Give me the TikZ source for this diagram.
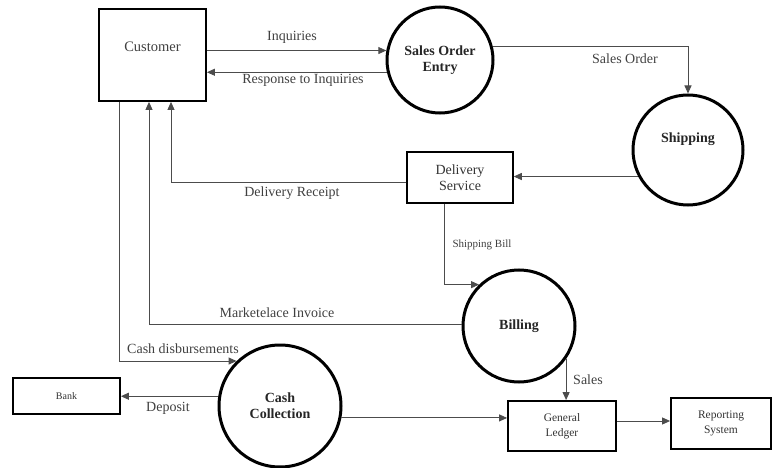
\documentclass[tikz,border=0pt]{standalone}
\usepackage{fontspec}
\setmainfont{Liberation Serif}
\usetikzlibrary{arrows.meta}
\begin{document}
\begin{tikzpicture}[x=1pt,y=-1pt,
  ent/.style={draw=black,line width=1.8pt,rectangle,inner sep=0pt,align=center,text=black!80},
  proc/.style={draw=black,line width=3pt,circle,inner sep=0pt,align=center,font=\fontsize{14}{16}\selectfont\bfseries,text=black!85},
  arr/.style={draw=black!70,line width=0.9pt,-{Triangle[length=8pt,width=7pt]}},
  lbl/.style={font=\fontsize{14}{16}\selectfont,text=black!75,inner sep=0pt},
  small/.style={font=\fontsize{11}{13}\selectfont,text=black!75,inner sep=0pt}]
\useasboundingbox (0,0) rectangle (772,468);
% entities
\node[ent,minimum width=107pt,minimum height=92pt] (cust) at (152.5,55) {};
\node[lbl] (custlbl) at (152.5,47) {\fontsize{14.5}{16}\selectfont Customer};
\node[ent,minimum width=106pt,minimum height=51pt,line width=1.5pt,font=\fontsize{14}{16}\selectfont] (deliv) at (460,177.5) {Delivery\\Service};
\node[ent,minimum width=107pt,minimum height=36pt,font=\fontsize{10}{12}\selectfont] (bank) at (66.5,396) {Bank};
\node[ent,minimum width=108pt,minimum height=50pt,font=\fontsize{11.5}{15}\selectfont] (gl) at (562,426) {General\\Ledger};
\node[ent,minimum width=100pt,minimum height=51pt,font=\fontsize{11.5}{15}\selectfont] (rep) at (721,423.5) {Reporting\\System};
% processes
\node[proc,minimum size=106pt] (soe) at (440,60) {Sales Order\\Entry};
\node[proc,minimum size=110pt] (ship) at (688,150) {Shipping\\[8pt]};
\node[proc,minimum size=112pt] (bill) at (519,326) {Billing};
\node[proc,minimum size=122pt] (cash) at (280,406) {Cash\\Collection};
% flows
\draw[arr] (cust.east |- soe.170) -- (soe.170);
\draw[arr] (soe.193) -- (cust.east |- soe.193);
\draw[arr] (soe.14) -| (ship.north);
\draw[arr] (ship.208) -- (deliv.east |- ship.208);
\draw[arr] ([yshift=-4.5pt]deliv.west) -| ([xshift=18.5pt]cust.south);
\draw[arr] (bill.178) -| ([xshift=-3.5pt]cust.south);
\draw[arr] ([xshift=-33.5pt]cust.south) |- (cash.134);
\draw[arr] (cash.171) -- (bank.east |- cash.171);
\draw[arr] (cash.-11) -- (gl.west |- cash.-11);
\draw[arr] ([xshift=-16pt]deliv.south) |- (bill.134);
\draw[arr] (bill.-35) -- (bill.-35 |- gl.north);
\draw[arr] ([yshift=5pt]gl.east) -- ([yshift=5pt]gl.east -| rep.west);
% labels
\node[lbl] (l1) at (292,37) {Inquiries};
\node[lbl] (l2) at (303,80) {Response to Inquiries};
\node[lbl] (l3) at (625,59) {Sales Order};
\node[lbl] (l4) at (292,193) {Delivery Receipt};
\node[small] (l5) at (482,245) {Shipping Bill};
\node[lbl] (l6) at (277,313) {Marketelace Invoice};
\node[lbl] (l7) at (183,349) {Cash disbursements};
\node[lbl] (l8) at (168,408) {Deposit};
\node[lbl] (l9) at (588,380) {Sales};
\end{tikzpicture}
\end{document}
